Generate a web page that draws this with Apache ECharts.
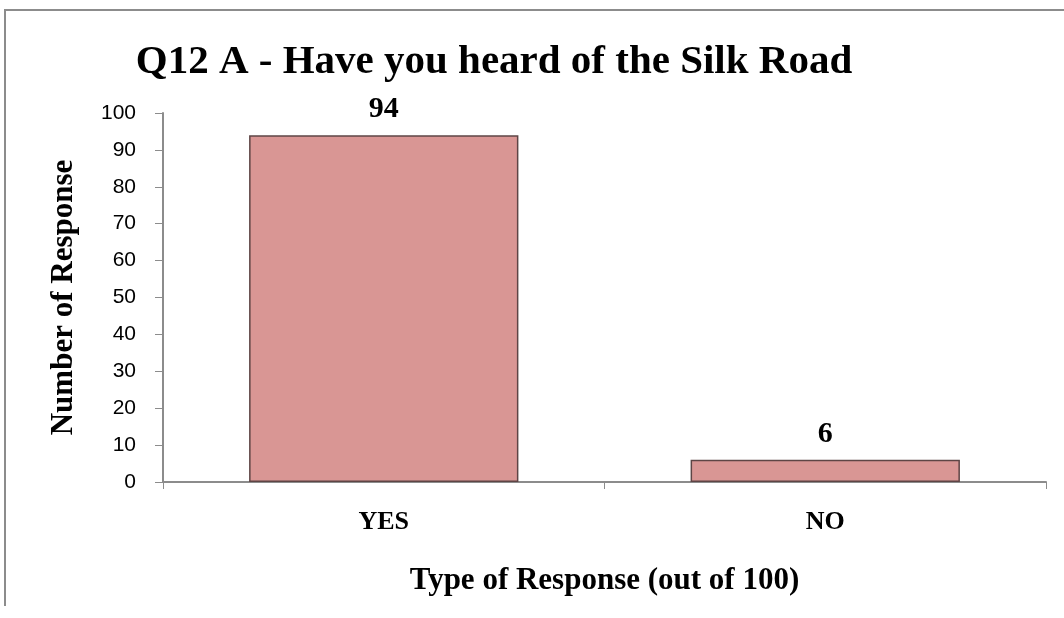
<!DOCTYPE html>
<html>
<head>
<meta charset="utf-8">
<script src="https://cdn.jsdelivr.net/npm/echarts@6/dist/echarts.min.js"></script>
<style>
  html, body { margin: 0; padding: 0; background: #fff; }
  #frame { position: absolute; left: 4px; top: 9px; width: 1070px; height: 597px;
           border-left: 2px solid #8c8c8c; border-top: 2px solid #8c8c8c; box-sizing: border-box; }
  #chart { position: absolute; left: 0; top: 0; width: 1064px; height: 618px; }
</style>
</head>
<body>
<div id="frame"></div>
<div id="chart"></div>
<script>
// Survey answers to Q12 A
const categories = ['YES', 'NO'];
const responses = [94, 6];
const yTicks = [0, 10, 20, 30, 40, 50, 60, 70, 80, 90, 100];

const serif = '"Liberation Serif", "DejaVu Serif", serif';
const sans = '"Liberation Sans", "Noto Sans", sans-serif';

const chart = echarts.init(document.getElementById('chart'), null, { renderer: 'canvas' });

chart.setOption({
  backgroundColor: 'transparent',
  animation: false,
  title: {
    text: 'Q12 A - Have you heard of the Silk Road',
    left: 489, top: 37, textAlign: 'center',
    textStyle: { fontFamily: serif, fontWeight: 'bold', fontSize: 41, color: '#000' }
  },
  grid: { left: 163, right: 18, top: 113, bottom: 136, containLabel: false },
  xAxis: {
    type: 'category',
    data: categories,
    name: 'Type of Response (out of 100)',
    nameLocation: 'middle',
    nameGap: 83,
    nameTextStyle: { fontFamily: serif, fontWeight: 'bold', fontSize: 31, color: '#000' },
    axisLine: { lineStyle: { color: '#8c8c8c', width: 2 } },
    axisTick: { show: true, length: 7, lineStyle: { color: '#8c8c8c', width: 1 } },
    axisLabel: { fontFamily: serif, fontWeight: 'bold', fontSize: 26, color: '#000', margin: 27 }
  },
  yAxis: {
    type: 'value',
    min: yTicks[0], max: yTicks[yTicks.length - 1], interval: 10,
    name: 'Number of Response',
    nameLocation: 'middle',
    nameGap: 84,
    nameRotate: 90,
    nameTextStyle: { fontFamily: serif, fontWeight: 'bold', fontSize: 31, color: '#000' },
    axisLine: { show: true, lineStyle: { color: '#8c8c8c', width: 2 } },
    axisTick: { show: true, length: 8, lineStyle: { color: '#8c8c8c', width: 1 } },
    splitLine: { show: false },
    axisLabel: { fontFamily: sans, fontSize: 21, color: '#000', margin: 27 }
  },
  series: [{
    type: 'bar',
    data: responses,
    barCategoryGap: '39%',
    itemStyle: { color: '#d99694', borderColor: '#5e4545', borderWidth: 1.5 },
    label: {
      show: true, position: 'top', distance: 11,
      fontFamily: serif, fontWeight: 'bold', fontSize: 30, color: '#000'
    }
  }]
});
</script>
</body>
</html>
